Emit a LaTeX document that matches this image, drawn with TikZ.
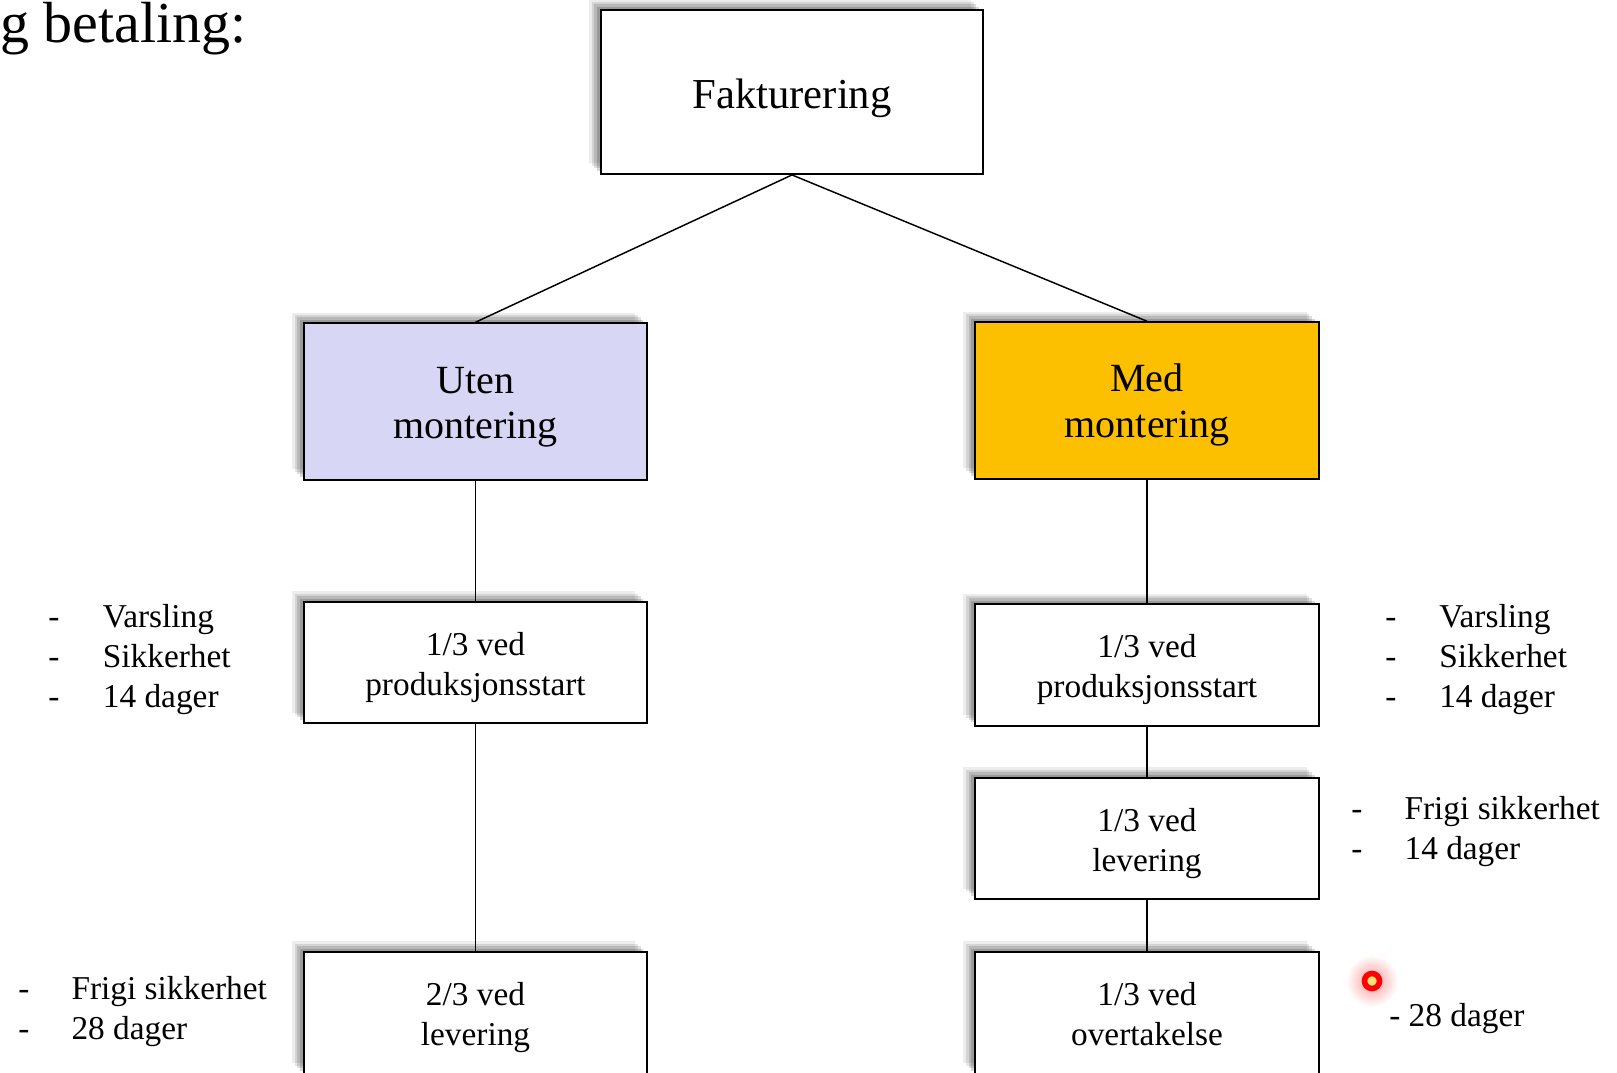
\documentclass[tikz,border=0pt]{standalone}
\usepackage{fontspec}
\setmainfont{Liberation Serif}
\usetikzlibrary{shadows}
\definecolor{lav}{RGB}{216,214,245}
\definecolor{amber}{RGB}{253,192,0}
\newcommand\boxtext[2][-3.6pt]{\raisebox{#1}[\height][\depth]{\begin{tabular}{@{}c@{}}#2\end{tabular}}}
\tikzset{
  softshadow/.style={
    general shadow={shadow xshift=-9pt, shadow yshift=8pt, fill=black, opacity=0.07},
    general shadow={shadow xshift=-7pt, shadow yshift=6pt, fill=black, opacity=0.10},
    general shadow={shadow xshift=-5pt, shadow yshift=4.5pt, fill=black, opacity=0.13},
    general shadow={shadow xshift=-3pt, shadow yshift=2.5pt, fill=black, opacity=0.16}},
  box/.style={draw=black, line width=1.4pt, fill=white, softshadow, inner sep=0pt},
  topbox/.style={box, minimum width=286.5pt, minimum height=123pt, font=\fontsize{32}{38}\selectfont},
  midbox/.style={box, minimum width=257.5pt, minimum height=117.5pt, font=\fontsize{30}{34}\selectfont},
  lowbox/.style={box, minimum width=257.5pt, minimum height=91pt, font=\fontsize{25}{30}\selectfont},
  endbox/.style={box, minimum width=257.5pt, minimum height=91.5pt, font=\fontsize{25}{30}\selectfont},
  conn/.style={draw=black, line width=1.1pt},
  side/.style={anchor=base west, inner sep=0pt, font=\fontsize{25}{30}\selectfont},
}
\begin{document}
\begin{tikzpicture}[x=0.75pt, y=-0.75pt]
\useasboundingbox (0,0) rectangle (1617,1072);
\clip (0,0) rectangle (1617,1072);
\fill[white] (0,0) rectangle (1617,1072);

\node[anchor=base west, inner sep=0pt, font=\fontsize{43.5}{50}\selectfont] (title) at (0,42.5) {g betaling:};

\node[topbox] (fak) at (792,92) {\boxtext[-4.6pt]{Fakturering}};
\node[midbox, fill=lav] (uten) at (475.5,401.5) {\boxtext[-4pt]{Uten\\montering}};
\node[midbox, fill=amber] (med) at (1147,400.5) {\boxtext{Med\\montering}};

\node[lowbox] (l1) at (475.5,662.5) {\boxtext{1/3 ved\\produksjonsstart}};
\node[endbox] (l2) at (475.5,1013) {\boxtext{2/3 ved\\levering}};

\node[lowbox] (r1) at (1147,665) {\boxtext{1/3 ved\\produksjonsstart}};
\node[lowbox] (r2) at (1147,838.5) {\boxtext{1/3 ved\\levering}};
\node[endbox] (r3) at (1147,1013) {\boxtext{1/3 ved\\overtakelse}};

\draw[conn] (fak.south) -- (uten.north);
\draw[conn] (fak.south) -- (med.north);
\draw[conn] (uten.south) -- (l1.north);
\draw[conn] (l1.south) -- (l2.north);
\draw[conn] (med.south) -- (r1.north);
\draw[conn] (r1.south) -- (r2.north);
\draw[conn] (r2.south) -- (r3.north);

\node[side] (lt1) at (48,627) {\begin{tabular}[t]{@{}p{41pt}@{}l@{}}-&Varsling\\-&Sikkerhet\\-&14 dager\end{tabular}};
\node[side] (lt2) at (18,999) {\begin{tabular}[t]{@{}p{40pt}@{}l@{}}-&Frigi sikkerhet\\-&28 dager\end{tabular}};
\node[side] (rt1) at (1385,627) {\begin{tabular}[t]{@{}p{40.5pt}@{}l@{}}-&Varsling\\-&Sikkerhet\\-&14 dager\end{tabular}};
\node[side] (rt2) at (1351,819) {\begin{tabular}[t]{@{}p{40pt}@{}l@{}}-&Frigi sikkerhet\\-&14 dager\end{tabular}};
\node[side] (rt3) at (1389,1026) {- 28 dager};

% presenter pointer
\shade[inner color=red!40, outer color=white] (1372,981) circle (26);
\draw[red, line width=4.2pt, fill=red!20!yellow!55!white] (1372,981) circle (7.5);
\end{tikzpicture}
\end{document}
